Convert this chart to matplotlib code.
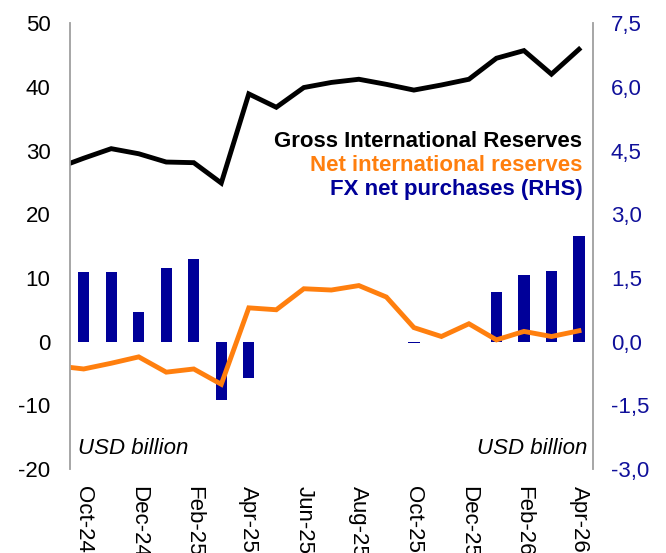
import numpy as np
import matplotlib.pyplot as plt
from matplotlib.ticker import FuncFormatter

plt.rcParams['font.family'] = ['Liberation Sans', 'DejaVu Sans']
plt.rcParams['axes.unicode_minus'] = False

# Sep-24 is outside the visible range, only the line segment entering from the left shows
months = ["Sep-24", "Oct-24", "Nov-24", "Dec-24", "Jan-25", "Feb-25", "Mar-25", "Apr-25",
          "May-25", "Jun-25", "Jul-25", "Aug-25", "Sep-25", "Oct-25", "Nov-25", "Dec-25",
          "Jan-26", "Feb-26", "Mar-26", "Apr-26"]
gross = [27.2, 28.8, 30.3, 29.5, 28.2, 28.1, 24.9, 38.9, 36.8, 39.9, 40.7, 41.2,
         40.4, 39.5, 40.3, 41.2, 44.5, 45.7, 42.0, 45.9]
nir = [-3.8, -4.3, -3.4, -2.4, -4.8, -4.3, -6.7, 5.3, 5.0, 8.3, 8.1, 8.8,
       7.0, 2.2, 0.8, 2.8, 0.27, 1.6, 0.8, 1.7]
fx = [np.nan, 1.63, 1.63, 0.70, 1.74, 1.94, -1.37, -0.86, 0, 0, 0, 0,
      0, -0.03, 0, 0, 1.16, 1.56, 1.67, 2.49]

navy = "#000099"
orange = "#FF7F0E"

x = np.arange(len(months)) - 1

fig = plt.figure(figsize=(6.66, 5.53), dpi=100)
ax = fig.add_axes([0.105, 0.152, 0.785, 0.806])
ax2 = ax.twinx()

# bars sit on the back axis, lines on the front one
ax2.set_zorder(0)
ax.set_zorder(1)
ax2.patch.set_facecolor("#F2F2F2")
ax.patch.set_visible(False)

ax2.axhline(0, color="white", lw=2, zorder=1)
ax2.bar(x, fx, width=0.41, color=navy, zorder=2)
ax.plot(x, gross, color="black", lw=3.5, solid_joinstyle="miter")
ax.plot(x, nir, color=orange, lw=3.5, solid_joinstyle="miter")

ax.set_xlim(-0.5, 18.5)
ax.set_ylim(-20, 50)
ax2.set_ylim(-3.0, 7.5)
ax.set_yticks(range(-20, 51, 10))
ax2.set_yticks(np.arange(-3.0, 7.6, 1.5))
ax2.yaxis.set_major_formatter(FuncFormatter(lambda v, p: f"{v:.1f}".replace(".", ",")))

ax.set_xticks(x[1::2])
ax.set_xticklabels(months[1::2], rotation=-90, fontsize=16)
ax.tick_params(axis="x", length=0, pad=12)
ax.tick_params(axis="y", length=0, labelsize=16, pad=14)
ax2.tick_params(axis="y", length=0, labelsize=16, labelcolor="#10109a", pad=13)

for a in (ax, ax2):
    for s in ("top", "bottom"):
        a.spines[s].set_visible(False)
    a.spines["left"].set_color("#A6A6A6")
    a.spines["right"].set_color("#A6A6A6")
    a.spines["left"].set_linewidth(1.2)
    a.spines["right"].set_linewidth(1.2)

ax.text(0.98, 0.735, "Gross International Reserves", transform=ax.transAxes,
        ha="right", va="center", fontsize=16, fontweight="bold", color="black")
ax.text(0.98, 0.681, "Net international reserves", transform=ax.transAxes,
        ha="right", va="center", fontsize=16, fontweight="bold", color=orange)
ax.text(0.98, 0.627, "FX net purchases (RHS)", transform=ax.transAxes,
        ha="right", va="center", fontsize=16, fontweight="bold", color=navy)

ax.text(0.015, 0.045, "USD billion", transform=ax.transAxes, ha="left", va="center",
        fontsize=16, style="italic")
ax.text(0.99, 0.045, "USD billion", transform=ax.transAxes, ha="right", va="center",
        fontsize=16, style="italic")

fig.savefig("out.png", dpi=100)
